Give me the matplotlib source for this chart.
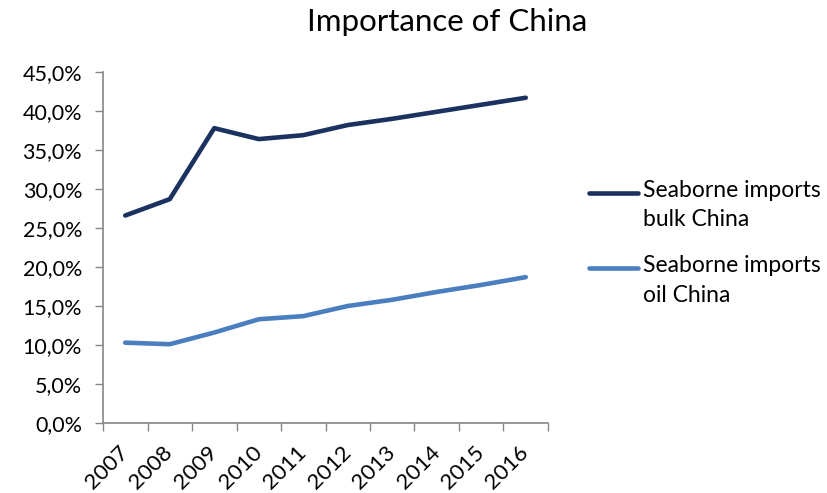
import matplotlib
matplotlib.use('Agg')
import matplotlib.pyplot as plt
from matplotlib.lines import Line2D
from matplotlib.ticker import FuncFormatter, FixedLocator
import matplotlib.transforms as mtransforms
import numpy as np

years = ['2007', '2008', '2009', '2010', '2011', '2012', '2013', '2014', '2015', '2016']
bulk_china = [26.6, 28.7, 37.8, 36.4, 36.9, 38.2, 39.0, 39.9, 40.8, 41.7]
oil_china = [10.3, 10.1, 11.6, 13.3, 13.7, 15.0, 15.8, 16.8, 17.7, 18.7]
series_names = ['Seaborne imports\nbulk China', 'Seaborne imports\noil China']
series_colors = ['#1B3160', '#4A7EBF']

plt.rcParams['font.family'] = ['Lato', 'DejaVu Sans']

fig = plt.figure(figsize=(8.27, 4.93), dpi=100)
ax = fig.add_axes([103 / 827, 1 - 423 / 493, 445 / 827, 351 / 493])

x = np.arange(len(years))
for vals, col in zip([bulk_china, oil_china], series_colors):
    ax.plot(x, vals, color=col, lw=3.3, solid_capstyle='round', solid_joinstyle='round')

ax.set_xlim(-0.5, len(years) - 0.5)
ax.set_ylim(0, 45)
ax.set_yticks(np.arange(0, 46, 5))
ax.yaxis.set_major_formatter(FuncFormatter(lambda v, p: f'{v:.1f}%'.replace('.', ',')))

# category labels at centres, tick marks at boundaries
ax.set_xticks(x)
ax.set_xticklabels(years, rotation=45, ha='right', va='center', rotation_mode='anchor')
shift = mtransforms.ScaledTranslation(4 / 100, 0, fig.dpi_scale_trans)
for lbl in ax.get_xticklabels():
    lbl.set_transform(lbl.get_transform() + shift)
ax.xaxis.set_minor_locator(FixedLocator(np.arange(-0.5, len(years), 1.0)))
ax.tick_params(axis='x', which='major', length=0, pad=19, labelsize=16)
ax.tick_params(axis='x', which='minor', length=6, color='#868686', width=1)
ax.tick_params(axis='y', length=6, color='#868686', width=1, labelsize=15.5, pad=9)

for s in ['top', 'right']:
    ax.spines[s].set_visible(False)
for s in ['left', 'bottom']:
    ax.spines[s].set_color('#868686')
    ax.spines[s].set_linewidth(1.2)

fig.text(447 / 827, 1 - 22 / 493, 'Importance of China', ha='center', va='center', fontsize=22.5)

# legend, handle aligned with first text line like the original
leg_y = [193, 268]
for name, col, yp in zip(series_names, series_colors, leg_y):
    fy = 1 - yp / 493
    fig.add_artist(Line2D([589 / 827, 638 / 827], [fy, fy], color=col, lw=3.3,
                          solid_capstyle='round', transform=fig.transFigure))
    fig.text(643 / 827, fy + 13 / 493, name, ha='left', va='top', fontsize=16.5,
             linespacing=1.5)

fig.savefig('out.png', dpi=100)
